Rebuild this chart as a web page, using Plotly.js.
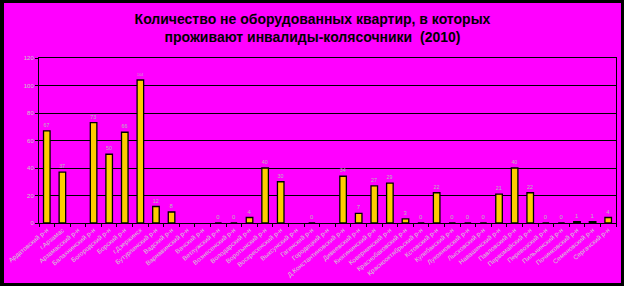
<!DOCTYPE html>
<html>
<head>
<meta charset="utf-8">
<script src="https://cdn.plot.ly/plotly-3.0.1.min.js"></script>
<style>
html,body{margin:0;padding:0;background:#000;width:624px;height:286px;overflow:hidden;}
#chart{position:absolute;left:4px;top:3px;width:617px;height:280px;}
</style>
</head>
<body>
<div id="chart"></div>
<script>
const categories = ["Ардатовский р-н","г.Арзамас","Арзамасский р-н","Балахнинский р-н","Богородский р-н","Борский р-н","г.Дзержинск","Бутурлинский р-н","Вадский р-н","Варнавинский р-н","Вачский р-н","Ветлужский р-н","Вознесенский р-н","Володарский р-н","Воротынский р-н","Воскресенский р-н","Выксунский р-н","Гагинский р-н","Городецкий р-н","Д.Константиновский р-н","Дивеевский р-н","Княгининский р-н","Ковернинский р-н","Краснобаковский р-н","Краснооктябрьский р-н","Кстовский р-н","Кулебакский р-н","Лукояновский р-н","Лысковский р-н","Навашинский р-н","Павловский р-н","Первомайский р-н","Перевозский р-н","Пильнинский р-н","Починковский р-н","Семеновский р-н","Сергачский р-н"];
const values = [67, 37, null, 73, 50, 66, 104, 12, 8, null, null, 0, 0, 4, 40, 30, null, 0, null, 34, 7, 27, 29, 3, 0, 22, 0, 0, 0, 21, 40, 22, 0, 0, 1, 1, 4];
const yTicks = [0, 20, 40, 60, 80, 100, 120];
const titleText = "Количество не оборудованных квартир, в которых<br>проживают инвалиды-колясочники  (2010)";

const trace = {
  type: 'bar',
  x: categories,
  y: values,
  marker: {color: '#FFCC00', line: {color: '#000', width: 1.3}},
  text: values.map(v => v === null ? '' : String(v)),
  textposition: 'outside',
  cliponaxis: false,
  textfont: {family: 'Liberation Sans, Arial', size: 6, color: '#b8b8b8'},
  hoverinfo: 'none'
};

const layout = {
  width: 617, height: 280,
  margin: {l: 35, r: 5, t: 55, b: 60, pad: 0},
  paper_bgcolor: '#FF00FF',
  plot_bgcolor: '#FF00FF',
  showlegend: false,
  bargap: 0.58,
  title: {
    text: titleText,
    x: 0.5, xanchor: 'center',
    y: 0.925, yref: 'container', yanchor: 'middle',
    font: {family: 'Liberation Sans, Arial', size: 14, color: '#000', weight: 'bold'}
  },
  xaxis: {
    type: 'category',
    tickangle: -40,
    tickfont: {family: 'Liberation Sans, Arial', size: 6.5, color: '#d0d0d0'},
    ticks: 'outside', ticklen: 3, tickcolor: '#000', tickwidth: 1,
    tickson: 'boundaries',
    showline: true, linecolor: '#000', linewidth: 1,
    mirror: true,
    showgrid: false,
    automargin: false,
    fixedrange: true
  },
  yaxis: {
    range: [0, 120],
    tickvals: yTicks,
    ticktext: yTicks.map(String),
    tickfont: {family: 'Liberation Sans, Arial', size: 6, color: '#c8c8c8'},
    ticks: 'outside', ticklen: 3, tickcolor: '#000',
    showline: true, linecolor: '#000', linewidth: 1,
    mirror: true,
    showgrid: true, gridcolor: '#000', gridwidth: 1,
    zeroline: false,
    automargin: false,
    fixedrange: true
  }
};

Plotly.newPlot('chart', [trace], layout, {staticPlot: true, displayModeBar: false});
</script>
</body>
</html>
